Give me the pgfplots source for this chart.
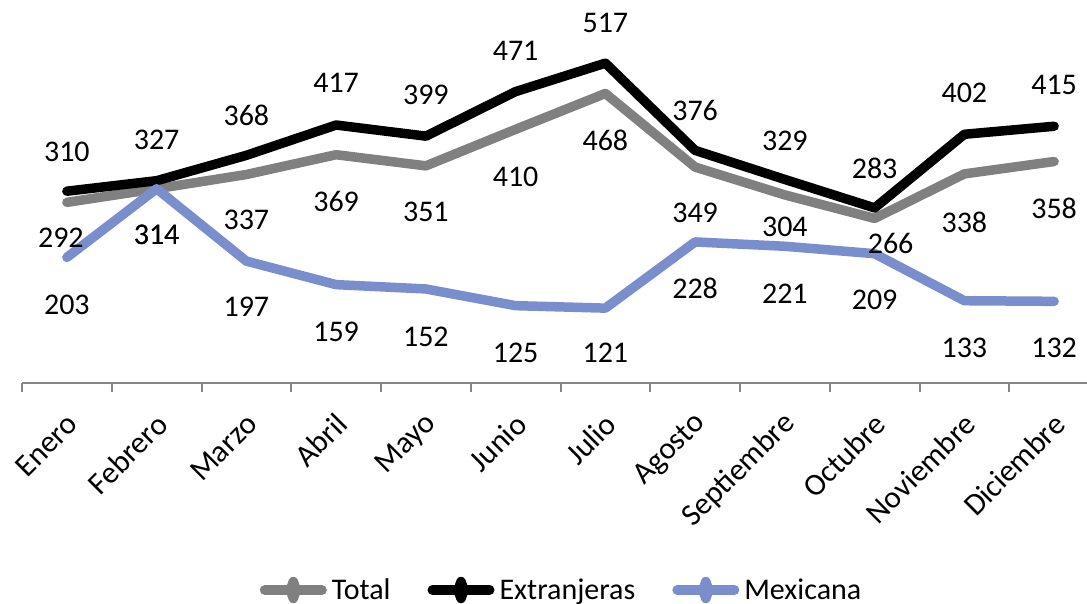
\documentclass[border=0pt]{standalone}
\usepackage{pgfplots}
\pgfplotsset{compat=1.18}
\usepackage{pgfplotstable}
\usepackage{fontspec}
\setmainfont{Carlito}
\definecolor{totgray}{RGB}{128,128,128}
\definecolor{mexblue}{RGB}{122,141,204}
\definecolor{axgray}{RGB}{134,134,134}
\pgfplotstableread{
x tot totoff totx ext extoff mex mexoff
0 292 -35 -6 310 39 203 -47.6
1 314 -46 0 327 41 314 -46
2 337 -45.5 0 368 40 197 -46
3 369 -47 0 417 42 159 -47
4 351 -46 0 399 41 152 -48
5 410 -47.5 0 471 41 125 -47
6 468 -46.6 0 517 40 121 -45
7 349 -46 0 376 40 228 -46
8 304 -32 0 329 39 221 -47
9 266 -25 16 283 40 209 -46
10 338 -48 0 402 41 133 -47
11 358 -46.5 0 415 41 132 -47
}\data
\newcommand{\bigfont}{\fontsize{30}{36}\selectfont}
\newcommand{\tickfont}{\fontsize{31}{37}\selectfont}
\begin{document}
\begin{tikzpicture}
\useasboundingbox (0,0) rectangle (1087pt,604pt);
\clip (0,0) rectangle (1087pt,604pt);
\begin{axis}[
  at={(22pt,221pt)}, anchor=south west,
  scale only axis, width=1077pt, height=371.2pt,
  xmin=-0.5, xmax=11.5, ymin=0, ymax=600,
  clip=false,
  axis x line*=bottom, axis y line=none,
  x axis line style={-, draw=axgray, line width=2.5pt},
  xtick={0,...,11},
  xticklabels={Enero,Febrero,Marzo,Abril,Mayo,Junio,Julio,Agosto,Septiembre,Octubre,Noviembre,Diciembre},
  major tick length=0pt,
  minor xtick={-0.5,0.5,...,11.5},
  minor tick length=9pt,
  tick align=outside,
  every minor tick/.style={draw=axgray, line width=2pt},
  x tick label style={rotate=45, anchor=east, font=\tickfont, text=black, inner sep=2pt, xshift=-19.5pt, yshift=-29.5pt},
  /pgf/number format/assume math mode=true,
  nodes near coords={\pgfmathprintnumber{\pgfplotspointmeta}},
  every node near coord/.append style={font=\bigfont, text=black, anchor=center, inner sep=0pt},
  legend columns=3,
  legend style={at={(axis description cs:0.5005,-0.5577)}, anchor=center, draw=none, fill=none,
    font=\bigfont, inner sep=0pt,
    nodes={inner sep=1pt},
    /tikz/every odd column/.append style={column sep=4pt},
    /tikz/every even column/.append style={column sep=36pt}},
  legend image code/.code={
    \draw[#1, line width=10pt, line cap=round] (0pt,0pt) -- (57pt,0pt);
    \fill[#1] (28.5pt,8.5pt) -- (31.5pt,0pt) -- (28.5pt,-8.5pt) -- (25.5pt,0pt) -- cycle;
  },
]
\addplot[totgray, line width=9.5pt, line join=round, line cap=round,
  visualization depends on={\thisrow{totoff} \as \off},
  visualization depends on={\thisrow{totx} \as \offx},
  every node near coord/.append style={yshift=\off pt, xshift=\offx pt}]
  table[x=x, y=tot] {\data};
\addlegendentry{Total}
\addplot[black, line width=9.5pt, line join=round, line cap=round,
  visualization depends on={\thisrow{extoff} \as \off},
  every node near coord/.append style={yshift=\off pt}]
  table[x=x, y=ext] {\data};
\addlegendentry{Extranjeras}
\addplot[mexblue, line width=9.5pt, line join=round, line cap=round,
  visualization depends on={\thisrow{mexoff} \as \off},
  every node near coord/.append style={yshift=\off pt}]
  table[x=x, y=mex] {\data};
\addlegendentry{Mexicana}
\end{axis}
\end{tikzpicture}
\end{document}
